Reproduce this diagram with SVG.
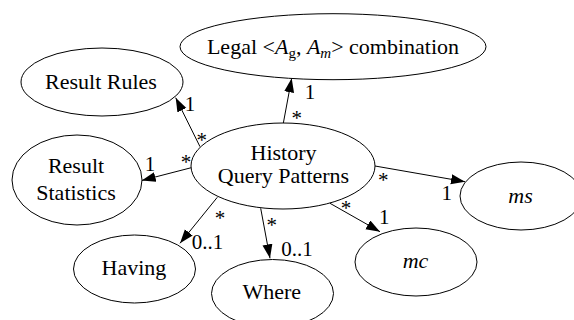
<svg xmlns="http://www.w3.org/2000/svg" width="574" height="320" viewBox="0 0 574 320" font-family="'Liberation Serif', 'DejaVu Serif', serif">
<style>
.n ellipse{fill:#fff;stroke:#000;stroke-width:1}
text{font-family:'Liberation Serif','DejaVu Serif',serif;fill:#000}
.t{font-size:22px;text-anchor:middle}
.l{font-size:21px;text-anchor:middle}
.e line{stroke:#000;stroke-width:1;marker-end:url(#ah)}
</style>
<defs>
<marker id="ah" markerUnits="userSpaceOnUse" markerWidth="15" markerHeight="11" refX="14" refY="5" orient="auto">
<path d="M0,0 L14,5 L0,10 z" fill="#000"/>
</marker>
</defs>
<rect width="574" height="320" fill="#fff"/>
<g class="e" id="connectors">
<line x1="200" y1="146.7" x2="175.7" y2="97.7"/>
<line x1="283.3" y1="123.3" x2="291.7" y2="78.3"/>
<line x1="192" y1="167.5" x2="141.7" y2="180.5"/>
<line x1="217.3" y1="197.3" x2="180" y2="243.3"/>
<line x1="260.7" y1="208.3" x2="270" y2="258.3"/>
<line x1="330" y1="203.3" x2="380" y2="231.7"/>
<line x1="375" y1="166" x2="465" y2="181.7"/>
<text class="l" x="190" y="110.5">1</text>
<text class="l" x="201.7" y="147">*</text>
<text class="l" x="310" y="98.5">1</text>
<text class="l" x="296.7" y="125.3">*</text>
<text class="l" x="150" y="170.5">1</text>
<text class="l" x="186" y="168.6">*</text>
<text class="l" x="220" y="225.3">*</text>
<text class="l" x="207.5" y="248.5">0..1</text>
<text class="l" x="271.7" y="232">*</text>
<text class="l" x="297" y="256">0..1</text>
<text class="l" x="346" y="215.3">*</text>
<text class="l" x="384.3" y="223.5">1</text>
<text class="l" x="383.3" y="187">*</text>
<text class="l" x="446.7" y="199.5">1</text>
</g>
<g class="n" id="legal">
<ellipse cx="333" cy="46.7" rx="153" ry="33"/>
<text class="t" x="333" y="53.5">Legal &lt;<tspan font-style="italic">A</tspan><tspan font-size="15" dy="4">g</tspan><tspan dy="-4">, </tspan><tspan font-style="italic">A</tspan><tspan font-style="italic" font-size="15" dy="4">m</tspan><tspan dy="-4">&gt; combination</tspan></text>
</g>
<g class="n" id="result-rules">
<ellipse cx="102" cy="82" rx="81" ry="34"/>
<text class="t" x="101" y="89.3">Result Rules</text>
</g>
<g class="n" id="result-statistics">
<ellipse cx="77" cy="180" rx="65" ry="45"/>
<text class="t" x="76" y="172.7">Result</text>
<text class="t" x="76" y="200">Statistics</text>
</g>
<g class="n" id="history-query-patterns">
<ellipse cx="283" cy="166" rx="92" ry="43"/>
<text class="t" x="283.5" y="159.5">History</text>
<text class="t" x="283.5" y="183.3">Query Patterns</text>
</g>
<g class="n" id="having">
<ellipse cx="134.5" cy="269" rx="61" ry="34"/>
<text class="t" x="134" y="275">Having</text>
</g>
<g class="n" id="where">
<ellipse cx="272.5" cy="293.5" rx="61" ry="34"/>
<text class="t" x="271.7" y="299.3">Where</text>
</g>
<g class="n" id="mc">
<ellipse cx="416" cy="262" rx="61" ry="34"/>
<text class="t" x="415.5" y="268.3" font-style="italic">mc</text>
</g>
<g class="n" id="ms">
<ellipse cx="521" cy="196" rx="61" ry="34"/>
<text class="t" x="520.5" y="202.7" font-style="italic">ms</text>
</g>
</svg>
